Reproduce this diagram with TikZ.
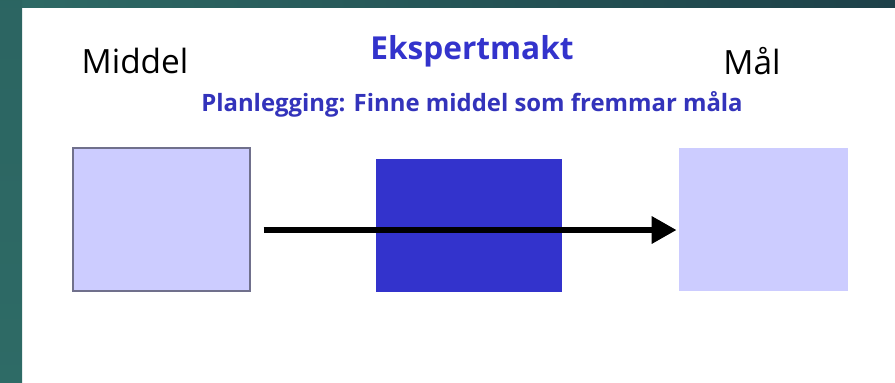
\documentclass[tikz,border=0pt]{standalone}
\usepackage{fontspec}
\setmainfont{Open Sans}
\usetikzlibrary{arrows.meta, positioning}
\definecolor{frameTeal}{HTML}{2E6B66}
\definecolor{frameDark}{HTML}{1D4048}
\definecolor{boxLight}{HTML}{CCCCFF}
\definecolor{boxStrong}{HTML}{3333CC}
\definecolor{textBlue}{HTML}{3333BB}

\begin{document}
\begin{tikzpicture}[
    lightbox/.style={rectangle, fill=boxLight, inner sep=0pt},
    strongbox/.style={rectangle, fill=boxStrong, inner sep=0pt},
    heading/.style={font=\fontsize{19}{22}\selectfont, text=black},
    flow/.style={line width=3.8pt, -{Triangle[length=0.5cm, width=0.52cm]}},
  ]
    \useasboundingbox (0,0) rectangle (17.9,-7.64);
    % frame and page
    \fill[white] (0,0) rectangle (18.2,-7.9);
    \shade[left color=frameTeal, right color=frameDark] (-0.2,0.2) rectangle (18.2,-0.14);
    \shade[top color=frameTeal!85!frameDark, bottom color=frameTeal] (-0.2,0) rectangle (0.44,-7.9);

    \node[heading] (tmiddel) at (2.7,-1.22) {Middel};
    \node[heading] (tmaal) at (15.04,-1.22) {Mål};
    \node[font=\fontsize{18}{21}\selectfont\bfseries, text=boxStrong] (tekspert) at (9.44,-1.02) {Ekspertmakt};
    \node[font=\fontsize{13.6}{16}\selectfont\bfseries, text=textBlue, below=0.24cm of tekspert] (tplan)
      {Planlegging: Finne middel som fremmar måla};

    \node[lightbox, draw=black!45!boxLight, line width=0.8pt, minimum width=3.54cm, minimum height=2.86cm] (middel) at (3.23,-4.39) {};
    \node[strongbox, minimum width=3.72cm, minimum height=2.66cm] (ekspert) at (9.38,-4.51) {};
    \node[lightbox, minimum width=3.38cm, minimum height=2.86cm] (maal) at (15.27,-4.39) {};

    \draw[flow] ([shift={(0.26,-0.21)}]middel.east) -- ([shift={(-0.04,-0.21)}]maal.west);
\end{tikzpicture}
\end{document}
